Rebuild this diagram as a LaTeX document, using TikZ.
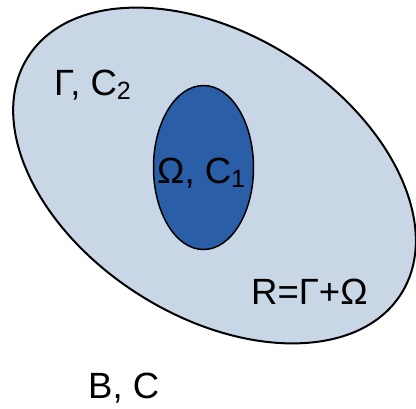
\documentclass[tikz,border=0pt]{standalone}
\usepackage{fontspec}
\setmainfont{Liberation Sans}
\definecolor{regionfill}{HTML}{C8D6E6}
\definecolor{kernelfill}{HTML}{2A5EA7}
\newcommand{\lowsub}[1]{\raisebox{-0.12em}{\fontsize{25}{25}\selectfont #1}}

\begin{document}
\begin{tikzpicture}[x=1pt, y=-1pt, font=\fontsize{36.5}{42}\selectfont,
    lbl/.style={anchor=base west, inner sep=0pt}]
  \useasboundingbox (0,0) rectangle (416,408);
  \draw[fill=regionfill, line width=2pt, rotate around={-32.4:(214.5,175.5)}]
    (214.5,175.5) ellipse [x radius=221, y radius=141];
  \draw[fill=kernelfill, line width=1.5pt] (203.5,167.5) ellipse [x radius=50, y radius=82];
  \node[lbl] (gamma) at (54,95) {Γ, C\lowsub{2}};
  \node[lbl] (omega) at (157,183) {Ω, C\lowsub{1}};
  \node[lbl] (sum) at (251,304) {R=Γ+Ω};
  \node[lbl] (bc) at (88,398) {B, C};
\end{tikzpicture}
\end{document}
